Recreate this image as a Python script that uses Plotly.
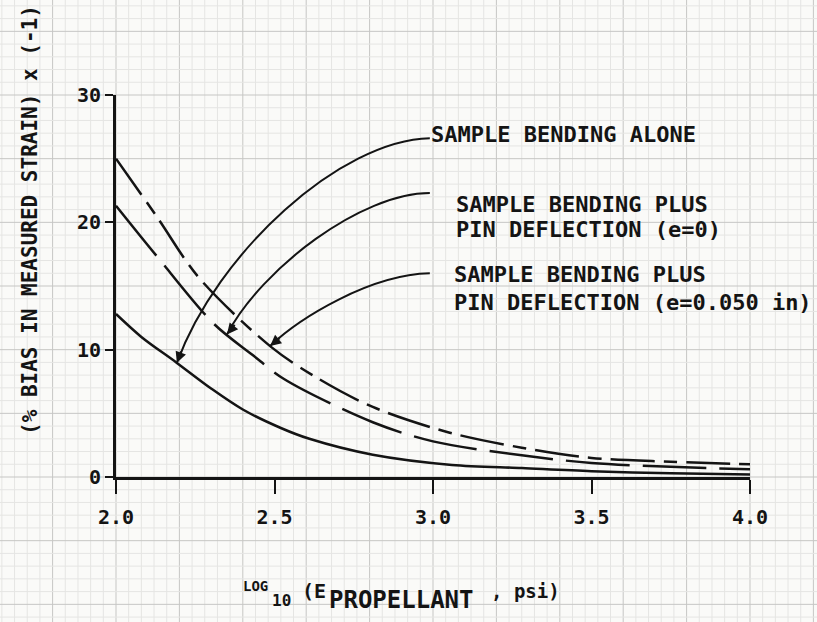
import numpy as np
import plotly.graph_objects as go

# ---- data: % bias in measured strain (x -1) vs log10 of propellant modulus ----
alone_x = [2.00, 2.08, 2.19, 2.30, 2.40, 2.52, 2.61, 2.81, 3.06, 3.28, 3.50, 3.75, 4.00]
alone_y = [12.8, 11.0, 9.0, 6.95, 5.3, 3.85, 3.0, 1.75, 0.95, 0.7, 0.45, 0.3, 0.2]

pin0_x = [2.00, 2.13, 2.31, 2.43, 2.53, 2.81, 3.00, 3.28, 3.50, 3.75, 4.00]
pin0_y = [21.3, 17.3, 12.0, 9.6, 7.7, 4.3, 2.8, 1.7, 1.1, 0.8, 0.6]

pin050_x = [2.00, 2.13, 2.26, 2.49, 2.64, 2.81, 3.05, 3.28, 3.50, 3.75, 4.00]
pin050_y = [25.0, 20.4, 15.7, 10.2, 7.7, 5.5, 3.5, 2.3, 1.5, 1.2, 1.0]

x_ticks = [2.0, 2.5, 3.0, 3.5, 4.0]
x_tick_text = ["2.0", "2.5", "3.0", "3.5", "4.0"]
y_ticks = [0, 10, 20, 30]
y_tick_text = ["0", "10", "20", "30"]

label_alone = "SAMPLE BENDING ALONE"
label_pin0 = ["SAMPLE BENDING PLUS", "PIN DEFLECTION (e=0)"]
label_pin050 = ["SAMPLE BENDING PLUS", "PIN DEFLECTION (e=0.050 in)"]
y_title = "(% BIAS IN MEASURED STRAIN) x (-1)"
# x title pieces: (text, font size, left px, centre px) on the two lettering baselines
x_title_parts = [("LOG", 14, 242, 586), ("10", 16, 271, 600), ("(E", 20, 301, 591),
                 ("PROPELLANT", 24, 328, 600), (", psi)", 19, 490, 591)]

INK = "#141414"
FONT = "DejaVu Sans Mono, Liberation Mono, monospace"
W, H = 817, 622
X0_PX, X1_PX, Y0_PX, Y1_PX = 116, 750, 477, 95   # plot-area edges in page pixels


def px(x):
    return x / W


def py(y):
    return 1 - y / H


fig = go.Figure()

# graph paper: faint minor rules, heavier every fifth, aligned with the data scale
step_x = (X1_PX - X0_PX) / 50.0
step_y = (Y0_PX - Y1_PX) / 30.0
for k in range(-12, 60):
    p = X0_PX + k * step_x
    if 0 <= p <= W:
        fig.add_shape(type="line", xref="paper", yref="paper", x0=px(p), x1=px(p), y0=0, y1=1,
                      layer="below",
                      line=dict(color="#c6c6c4" if k % 5 == 0 else "#e5e5e3", width=1))
for k in range(-40, 15):
    p = Y0_PX + k * step_y
    if 0 <= p <= H:
        fig.add_shape(type="line", xref="paper", yref="paper", x0=0, x1=1, y0=py(p), y1=py(p),
                      layer="below",
                      line=dict(color="#c6c6c4" if k % 5 == 0 else "#e5e5e3", width=1))

curve_style = dict(mode="lines", showlegend=False, hoverinfo="skip", line_shape="spline")
fig.add_trace(go.Scatter(x=alone_x, y=alone_y, line=dict(color=INK, width=2.5, smoothing=0.9),
                         **curve_style))
fig.add_trace(go.Scatter(x=pin0_x, y=pin0_y,
                         line=dict(color=INK, width=2.5, dash="64px,13px", smoothing=0.9),
                         **curve_style))
fig.add_trace(go.Scatter(x=pin050_x, y=pin050_y,
                         line=dict(color=INK, width=2.5, dash="44px,9px,14px,9px", smoothing=0.9),
                         **curve_style))


# curved leaders from each label down to its curve
def leader(p0, c1, c2, tip_x, cx, cy, ax, ay):
    tip_y = float(np.interp(tip_x, cx, cy))
    path = f"M {p0[0]},{p0[1]} C {c1[0]},{c1[1]} {c2[0]},{c2[1]} {tip_x},{tip_y}"
    fig.add_shape(type="path", path=path, xref="x", yref="y",
                  line=dict(color=INK, width=2.0))
    fig.add_annotation(x=tip_x, y=tip_y, xref="x", yref="y", ax=ax, ay=ay,
                       text="", showarrow=True, arrowhead=2, arrowsize=1.1,
                       arrowwidth=2.0, arrowcolor=INK, standoff=0)


leader((2.990, 26.6), (2.707, 26.45), (2.319, 17.6), 2.192, alone_x, alone_y, 5, -13)
leader((2.990, 22.3), (2.773, 22.3), (2.461, 16.4), 2.350, pin0_x, pin0_y, 9, -11)
leader((2.990, 16.0), (2.801, 15.9), (2.580, 12.5), 2.486, pin050_x, pin050_y, 11, -9)

text_font = dict(family=FONT, size=22, color=INK, weight="bold")


def label(text, x, y):
    fig.add_annotation(text=text, x=x, y=y, xref="x", yref="y", xanchor="left",
                       yanchor="middle", showarrow=False, font=text_font, borderpad=0)


label(label_alone, 2.992, 26.9)
label(label_pin0[0], 3.069, 21.4)
label(label_pin0[1], 3.069, 19.4)
label(label_pin050[0], 3.063, 15.9)
label(label_pin050[1], 3.063, 13.7)

fig.add_annotation(text=y_title, x=px(30), y=py(220), xref="paper", yref="paper",
                   xanchor="center", yanchor="middle", textangle=-90, showarrow=False,
                   font=dict(family=FONT, size=21, color=INK, weight="bold"))
for txt, size, left, cy in x_title_parts:
    fig.add_annotation(text=txt, x=px(left), y=py(cy), xref="paper", yref="paper",
                       xanchor="left", yanchor="middle", showarrow=False, borderpad=0,
                       font=dict(family=FONT, size=size, color=INK, weight="bold"))

tick_font = dict(family=FONT, size=20, color=INK, weight="bold")
fig.update_layout(
    width=W, height=H,
    margin=dict(l=0, r=0, t=0, b=0, autoexpand=False),
    paper_bgcolor="#fafaf8",
    plot_bgcolor="rgba(0,0,0,0)",
    xaxis=dict(domain=[px(X0_PX), px(X1_PX)], range=[2.0, 4.0],
               showline=True, linecolor=INK, linewidth=2.8, mirror=False,
               ticks="outside", ticklen=14, tickwidth=2.4, tickcolor=INK,
               tickvals=x_ticks, ticktext=x_tick_text, ticklabelstandoff=6,
               tickfont=tick_font, showgrid=False, zeroline=False),
    yaxis=dict(domain=[py(Y0_PX), py(Y1_PX)], range=[0, 30],
               showline=True, linecolor=INK, linewidth=2.8,
               ticks="outside", ticklen=8, tickwidth=2.4, tickcolor=INK,
               tickvals=y_ticks, ticktext=y_tick_text, ticklabelstandoff=0,
               tickfont=tick_font, showgrid=False, zeroline=False),
)

fig.write_html("out.html")
